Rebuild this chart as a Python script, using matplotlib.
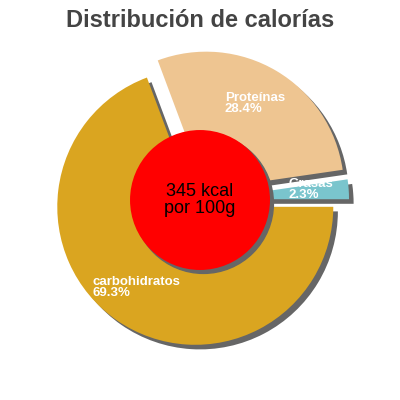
import matplotlib
matplotlib.use("Agg")
import matplotlib.pyplot as plt
import matplotlib.patches as mpatches

# data
labels = ["Grasas", "Proteínas", "carbohidratos"]
percents = [2.3, 28.4, 69.3]
colors = ["#7AC5CD", "#EEC591", "#DAA520"]
explode = [0.08, 0.087, 0.06]
energy_text = "345 kcal\npor 100g"
title = "Distribución de calorías"

# where each label's top-left corner sits (pie radius = 1)
label_pos = [(0.64, 0.16), (0.18, 0.785), (-0.78, -0.55)]

plt.rcParams['font.family'] = ['Liberation Sans', 'DejaVu Sans']

fig = plt.figure(figsize=(4, 4), dpi=100)
ax = fig.add_axes([0, 0, 1, 1])

# Shadow offsets are scaled by dpi/72, so 0.024 is roughly 4-5 px here
shadow = {'ox': 0.024, 'oy': -0.024, 'facecolor': '#666666',
          'edgecolor': '#666666', 'alpha': 1}
wedges, _ = ax.pie(percents, colors=colors, explode=explode, startangle=0,
                   counterclock=True, radius=1, shadow=shadow,
                   wedgeprops={'linewidth': 0})

# red centre disc with its own shadow
disc = mpatches.Circle((0, 0), 0.507, facecolor='#FF0000', edgecolor='none', zorder=5)
disc_shadow = mpatches.Shadow(disc, 0.018, -0.018, facecolor='#666666',
                              edgecolor='#666666', alpha=1)
disc_shadow.set_zorder(4.9)
ax.add_patch(disc_shadow)
ax.add_patch(disc)
ax.text(0, 0, energy_text, ha='center', va='center', fontsize=13,
        color='black', linespacing=1.0, zorder=6)

for name, pct, (x, y) in zip(labels, percents, label_pos):
    ax.text(x, y, f"{name}\n{pct}%", ha='left', va='top', fontsize=9.5,
            fontweight='bold', color='white', linespacing=0.95, zorder=7)

ax.set_xlim(-200 / 138, 200 / 138)
ax.set_ylim(-200 / 138, 200 / 138)
ax.set_aspect('equal')
ax.axis('off')

fig.text(0.5, 0.978, title, ha='center', va='top', fontsize=17,
         fontweight='bold', color='#444444')

fig.savefig("out.png", dpi=100)
